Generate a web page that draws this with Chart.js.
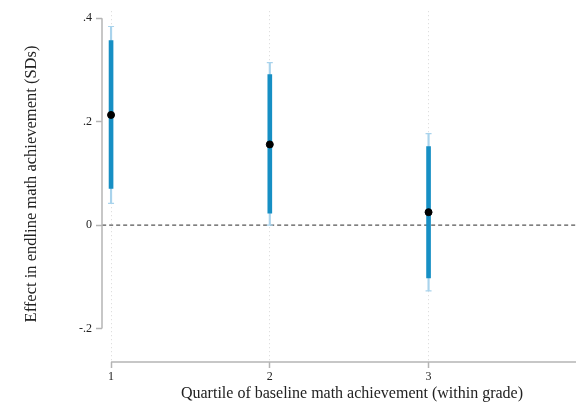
<!DOCTYPE html>
<html>
<head>
<meta charset="utf-8">
<script src="https://cdn.jsdelivr.net/npm/chart.js@4"></script>
<style>
  html, body { margin: 0; padding: 0; background: #fff; }
  #wrap { width: 576px; height: 406px; }
</style>
</head>
<body>
<div id="wrap"><canvas id="chart" width="576" height="406"></canvas></div>
<script>
// --- datos ---
const quartiles = [1, 2, 3];
const estimates = [0.213, 0.156, 0.025];
const ci90Low = [0.071, 0.023, -0.102];
const ci90High = [0.357, 0.291, 0.152];
const ci95Low = [0.042, 0.0, -0.127];
const ci95High = [0.384, 0.314, 0.177];
const yTicks = [-0.2, 0, 0.2, 0.4];
const yTickLabels = ['-.2', '0', '.2', '.4'];
const xTitle = 'Quartile of baseline math achievement (within grade)';
const yTitle = 'Effect in endline math achievement (SDs)';

const FONT = "'Liberation Serif', 'DejaVu Serif', serif";

// ejes dibujados a mano (Stata solo traza la linea entre los ticks)
const axisLines = {
    id: 'axisLines',
    afterDraw(chart) {
        const { ctx, scales: { x, y }, chartArea } = chart;
        ctx.save();
        ctx.strokeStyle = '#b4b4b4';
        ctx.lineWidth = 1.5;
        ctx.beginPath();
        ctx.moveTo(chartArea.left, y.getPixelForValue(0.4));
        ctx.lineTo(chartArea.left, y.getPixelForValue(-0.2));
        ctx.stroke();
        ctx.beginPath();
        ctx.moveTo(x.getPixelForValue(1), chartArea.bottom);
        ctx.lineTo(chart.width, chartArea.bottom);
        ctx.stroke();

        ctx.fillStyle = '#222';
        ctx.font = '16px ' + FONT;
        ctx.textAlign = 'center';
        ctx.textBaseline = 'middle';
        ctx.fillText(xTitle, 352, 394);
        ctx.font = '16.5px ' + FONT;
        ctx.translate(32, 184);
        ctx.rotate(-Math.PI / 2);
        ctx.fillText(yTitle, 0, 0);
        ctx.restore();
    }
};

new Chart(document.getElementById('chart'), {
    type: 'bar',
    data: {
        datasets: [
            {
                type: 'line',
                data: [{ x: 0.9, y: 0 }, { x: 4.2, y: 0 }],
                borderColor: '#555',
                borderWidth: 1.2,
                borderDash: [4, 3],
                pointRadius: 0,
                clip: { left: 0, top: 0, right: 10, bottom: 0 },
                order: 5
            },
            {
                type: 'bar',
                data: quartiles.map((q, i) => ({ x: q, y: [ci95Low[i], ci95High[i]] })),
                backgroundColor: '#a9d3ec',
                barThickness: 1.5,
                grouped: false,
                order: 4
            },
            {
                type: 'scatter',
                data: quartiles.flatMap((q, i) => [{ x: q, y: ci95Low[i] }, { x: q, y: ci95High[i] }]),
                pointStyle: 'line',
                pointRadius: 3,
                borderColor: '#a9d3ec',
                borderWidth: 1.2,
                order: 3
            },
            {
                type: 'bar',
                data: quartiles.map((q, i) => ({ x: q, y: [ci90Low[i], ci90High[i]] })),
                backgroundColor: '#168fc4',
                barThickness: 4,
                grouped: false,
                order: 2
            },
            {
                type: 'scatter',
                data: quartiles.map((q, i) => ({ x: q, y: estimates[i] })),
                backgroundColor: '#000',
                borderColor: '#000',
                pointRadius: 3.5,
                order: 1
            }
        ]
    },
    options: {
        responsive: false,
        animation: false,
        layout: { padding: { top: 0, right: 0, left: 0, bottom: 0 } },
        plugins: { legend: { display: false }, tooltip: { enabled: false } },
        scales: {
            x: {
                type: 'linear',
                min: 0.943,
                max: 3.896,
                offset: false,
                afterBuildTicks: (axis) => { axis.ticks = quartiles.map(v => ({ value: v })); },
                afterFit: (axis) => { axis.height = 44; },
                grid: {
                    offset: false,
                    color: '#d8d8d8',
                    lineWidth: 1,
                    tickColor: '#b4b4b4',
                    tickLength: 6,
                    tickBorderDash: [],
                    tickWidth: 1.5
                },
                border: { display: false, dash: [1, 3] },
                ticks: {
                    color: '#222',
                    font: { family: FONT, size: 12 },
                    padding: 2,
                    maxRotation: 0,
                    callback: (v) => String(v)
                }
            },
            y: {
                min: -0.2647,
                max: 0.4136,
                afterBuildTicks: (axis) => { axis.ticks = yTicks.map(v => ({ value: v })); },
                afterFit: (axis) => { axis.width = 102; },
                grid: {
                    drawOnChartArea: false,
                    tickColor: '#b4b4b4',
                    tickLength: 6,
                    tickWidth: 1.5
                },
                border: { display: false },
                ticks: {
                    color: '#222',
                    font: { family: FONT, size: 12 },
                    padding: 4,
                    callback: (v) => {
                        const i = yTicks.findIndex(t => Math.abs(t - v) < 1e-6);
                        return i >= 0 ? yTickLabels[i] : '';
                    }
                }
            }
        }
    },
    plugins: [axisLines]
});
</script>
</body>
</html>
